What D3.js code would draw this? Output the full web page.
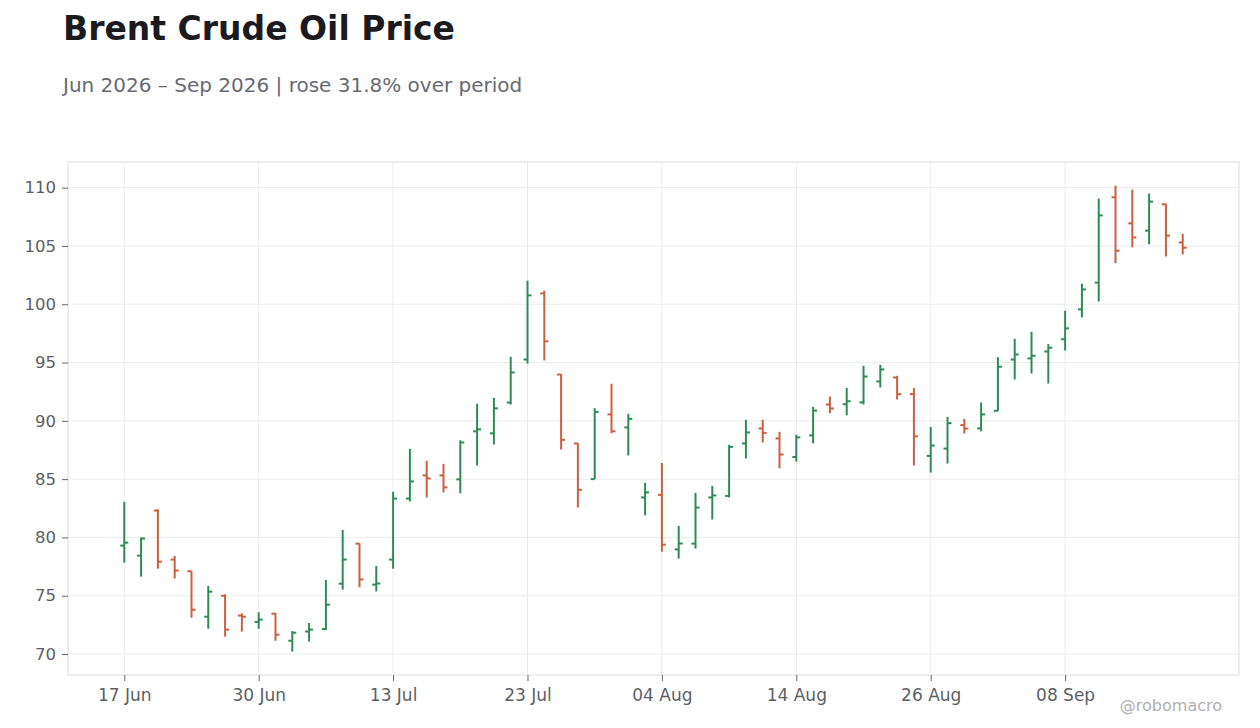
<!DOCTYPE html>
<html>
<head>
<meta charset="utf-8">
<script src="https://cdn.jsdelivr.net/npm/d3@7"></script>
<style>
  body { margin: 0; background: #fff; font-family: "DejaVu Sans", sans-serif; }
</style>
</head>
<body>
<script>
// Trading days shown on the chart
const dates = [
    "2026-06-17", "2026-06-18", "2026-06-22", "2026-06-23", "2026-06-24", "2026-06-25", "2026-06-26", "2026-06-29",
    "2026-06-30", "2026-07-01", "2026-07-02", "2026-07-06", "2026-07-07", "2026-07-08", "2026-07-09", "2026-07-10",
    "2026-07-13", "2026-07-14", "2026-07-15", "2026-07-16", "2026-07-17", "2026-07-20", "2026-07-21", "2026-07-22",
    "2026-07-23", "2026-07-24", "2026-07-27", "2026-07-28", "2026-07-29", "2026-07-30", "2026-07-31", "2026-08-03",
    "2026-08-04", "2026-08-05", "2026-08-06", "2026-08-07", "2026-08-10", "2026-08-11", "2026-08-12", "2026-08-13",
    "2026-08-14", "2026-08-17", "2026-08-18", "2026-08-19", "2026-08-20", "2026-08-21", "2026-08-24", "2026-08-25",
    "2026-08-26", "2026-08-27", "2026-08-28", "2026-08-31", "2026-09-01", "2026-09-02", "2026-09-03", "2026-09-04",
    "2026-09-08", "2026-09-09", "2026-09-10", "2026-09-11", "2026-09-14", "2026-09-15", "2026-09-16", "2026-09-17"
];

const open = [
    79.30, 78.44, 82.30, 78.10, 77.10, 73.20, 75.00, 73.30,
    72.75, 73.46, 71.14, 71.93, 72.14, 76.03, 79.47, 75.95,
    78.10, 83.33, 85.32, 85.32, 84.98, 89.10, 88.93, 91.57,
    95.26, 100.93, 93.97, 88.06, 85.00, 90.55, 89.43, 83.43,
    83.65, 78.97, 79.47, 83.43, 83.56, 88.06, 89.35, 88.49,
    86.90, 88.75, 91.40, 91.42, 91.58, 93.38, 93.72, 92.29,
    86.99, 87.62, 89.63, 89.35, 90.86, 95.26, 95.35, 95.95,
    97.00, 99.56, 101.85, 109.17, 106.94, 106.31, 108.57, 105.30
];
const high = [
    83.05, 80.00, 82.42, 78.41, 77.12, 75.84, 75.12, 73.49,
    73.58, 73.52, 71.97, 72.66, 76.35, 80.64, 79.50, 77.55,
    83.91, 87.60, 86.57, 86.31, 88.34, 91.46, 91.97, 95.49,
    102.02, 101.16, 94.00, 88.08, 91.09, 93.18, 90.60, 84.68,
    86.39, 80.99, 83.82, 84.42, 87.94, 90.09, 90.09, 89.06,
    88.80, 91.20, 92.09, 92.83, 94.72, 94.80, 93.86, 92.83,
    89.48, 90.34, 90.17, 91.57, 95.46, 97.04, 97.64, 96.58,
    99.44, 101.76, 109.06, 110.17, 109.83, 109.49, 108.60, 106.05
];
const low = [
    77.84, 76.64, 77.32, 76.47, 73.12, 72.17, 71.49, 71.92,
    72.17, 71.14, 70.20, 71.07, 72.06, 75.52, 75.72, 75.37,
    77.32, 83.09, 83.43, 83.86, 83.78, 86.16, 87.97, 91.40,
    94.92, 95.18, 87.54, 82.57, 85.00, 88.94, 87.03, 81.89,
    78.78, 78.18, 79.04, 81.53, 83.43, 86.77, 88.15, 85.93,
    86.50, 88.06, 90.66, 90.47, 91.40, 92.86, 91.83, 86.17,
    85.56, 86.34, 88.91, 89.10, 90.85, 93.55, 94.06, 93.20,
    96.03, 98.87, 100.24, 103.52, 104.88, 105.14, 104.10, 104.27
];
const close = [
    79.55, 79.90, 77.92, 77.16, 73.80, 75.35, 72.09, 73.20,
    72.95, 71.66, 71.83, 72.10, 74.23, 78.10, 76.40, 76.05,
    83.33, 84.80, 85.06, 84.29, 88.14, 89.27, 91.07, 94.15,
    100.76, 96.82, 88.37, 84.08, 90.77, 89.10, 90.17, 83.86,
    79.38, 79.48, 82.56, 83.60, 87.77, 89.00, 88.97, 87.11,
    88.58, 90.88, 91.06, 91.68, 93.80, 94.41, 92.29, 88.67,
    87.88, 89.80, 89.34, 90.55, 94.64, 95.69, 95.58, 96.27,
    97.93, 101.27, 107.62, 104.59, 105.73, 108.80, 105.88, 104.85
];

const yTicks = [70, 75, 80, 85, 90, 95, 100, 105, 110];
const xTickEvery = 8;

const W = 1260, H = 728;
const margin = { top: 162, right: 21, bottom: 53, left: 68 };
const width = W - margin.left - margin.right;
const height = H - margin.top - margin.bottom;

const upColor = "#2e8b57";
const downColor = "#cc5f3f";
const textColor = "#5c5f66";

const bars = dates.map((d, i) => ({
    i: i,
    date: d3.timeParse("%Y-%m-%d")(d),
    open: open[i], high: high[i], low: low[i], close: close[i]
}));

const svg = d3.select("body").append("svg")
    .attr("width", W)
    .attr("height", H)
    .style("display", "block");

// Title and subtitle
svg.append("text")
    .attr("x", 63)
    .attr("y", 40)
    .style("font-size", "33px")
    .style("font-weight", "bold")
    .style("fill", "#1b1b1f")
    .text("Brent Crude Oil Price");

svg.append("text")
    .attr("x", 63)
    .attr("y", 92)
    .style("font-size", "20px")
    .style("fill", "#676a72")
    .text("Jun 2026 \u2013 Sep 2026 | rose 31.8% over period");

const g = svg.append("g")
    .attr("transform", `translate(${margin.left}, ${margin.top})`);

// Scales: x runs on bar index, so gaps between trading days vanish
const xScale = d3.scaleLinear()
    .domain([-3.35, dates.length - 1 + 3.35])
    .range([0, width]);

const yScale = d3.scaleLinear()
    .domain([68.2, 112.2])
    .range([height, 0]);

const xTickValues = d3.range(0, dates.length, xTickEvery);

// Grid
g.append("g")
    .selectAll("line")
    .data(yTicks)
    .join("line")
    .attr("x1", 0)
    .attr("x2", width)
    .attr("y1", d => yScale(d))
    .attr("y2", d => yScale(d))
    .attr("stroke", "#ececec")
    .attr("stroke-width", 1);

g.append("g")
    .selectAll("line")
    .data(xTickValues)
    .join("line")
    .attr("x1", d => xScale(d))
    .attr("x2", d => xScale(d))
    .attr("y1", 0)
    .attr("y2", height)
    .attr("stroke", "#ececec")
    .attr("stroke-width", 1);

g.append("rect")
    .attr("width", width)
    .attr("height", height)
    .attr("fill", "none")
    .attr("stroke", "#dcdcdc");

// Axes
const xAxis = d3.axisBottom(xScale)
    .tickValues(xTickValues)
    .tickFormat(i => d3.timeFormat("%d %b")(bars[i].date))
    .tickSize(6)
    .tickPadding(6);

const yAxis = d3.axisLeft(yScale)
    .tickValues(yTicks)
    .tickSize(6)
    .tickPadding(6);

const xg = g.append("g")
    .attr("transform", `translate(0, ${height})`)
    .call(xAxis);
const yg = g.append("g").call(yAxis);

[xg, yg].forEach(ax => {
    ax.select(".domain").remove();
    ax.selectAll("line").attr("stroke", "#666");
    ax.selectAll("text")
        .style("font-family", "DejaVu Sans, sans-serif")
        .style("font-size", "16.5px")
        .style("fill", textColor);
});
xg.selectAll("text")
    .style("font-size", "17px")
    .attr("dy", "0.85em");

// OHLC bars
const ohlc = g.append("g")
    .selectAll("g")
    .data(bars)
    .join("g")
    .attr("stroke", d => d.close >= d.open ? upColor : downColor)
    .attr("stroke-width", 2);

ohlc.append("line")
    .attr("x1", d => xScale(d.i))
    .attr("x2", d => xScale(d.i))
    .attr("y1", d => yScale(d.high))
    .attr("y2", d => yScale(d.low));

ohlc.append("line")
    .attr("x1", d => xScale(d.i) - 4)
    .attr("x2", d => xScale(d.i))
    .attr("y1", d => yScale(d.open))
    .attr("y2", d => yScale(d.open));

ohlc.append("line")
    .attr("x1", d => xScale(d.i))
    .attr("x2", d => xScale(d.i) + 4)
    .attr("y1", d => yScale(d.close))
    .attr("y2", d => yScale(d.close));

// Watermark
svg.append("text")
    .attr("x", 1222)
    .attr("y", 711)
    .attr("text-anchor", "end")
    .style("font-size", "16px")
    .style("fill", "#b0b0b0")
    .text("@robomacro");
</script>
</body>
</html>
